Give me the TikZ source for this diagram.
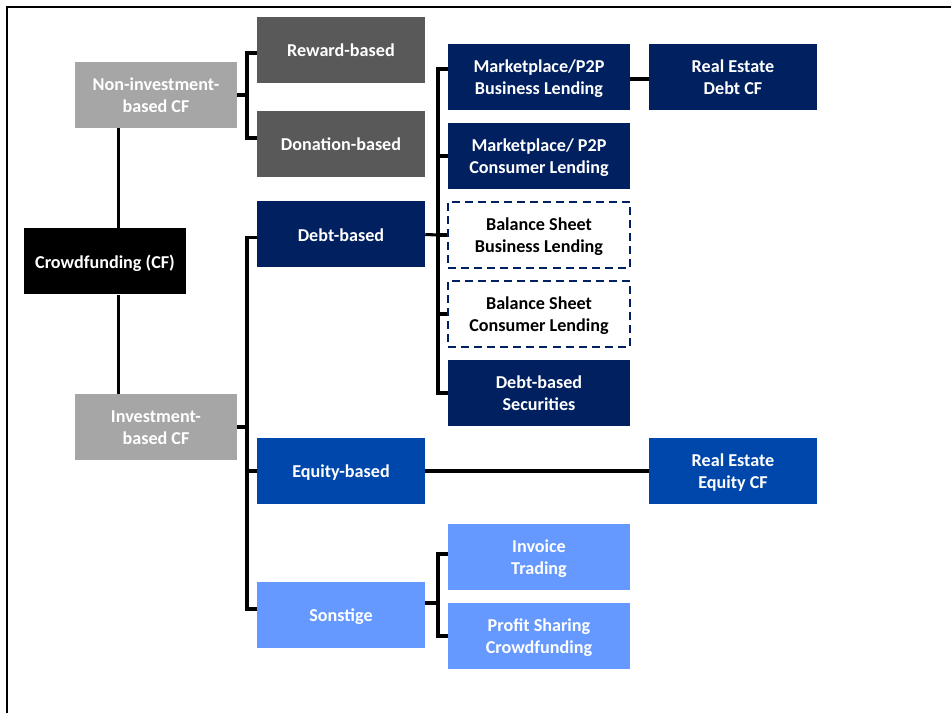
\documentclass[tikz,border=0pt]{standalone}
\usepackage{fontspec}
\setmainfont{Carlito}
\definecolor{gLight}{HTML}{A6A6A6}
\definecolor{gDark}{HTML}{595959}
\definecolor{navy}{HTML}{002060}
\definecolor{eqblue}{HTML}{0047AB}
\definecolor{ltblue}{HTML}{6699FF}
\newcommand{\boxtxt}[1]{\raisebox{-1.9pt}[\height][\depth]{\begin{tabular}{@{}c@{}}#1\end{tabular}}}
\tikzset{
  box/.style={rectangle, inner sep=0pt, align=center, text=white,
    font=\fontsize{13.6}{16.5}\selectfont\bfseries},
  colA/.style={box, minimum width=121.5pt, minimum height=49.5pt},
  colB/.style={box, minimum width=126pt, minimum height=49.5pt},
  colC/.style={box, minimum width=136.5pt, minimum height=49.5pt},
  dashbox/.style={colC, fill=white, text=black, draw=navy, line width=2.2pt,
    dash pattern=on 6pt off 3.8pt},
  conn/.style={draw=black, line width=2.3pt},
  frame/.style={draw=black, line width=1.6pt}
}
\begin{document}
\begin{tikzpicture}[x=0.75pt,y=-0.75pt]
\useasboundingbox (0,0) rectangle (951,713);
\draw[frame] (7,713) -- (7,7) -- (951,7);

% column A
\node[colA, fill=gLight] (noninv) at (156,95) {\boxtxt{Non-investment-\\based CF}};
\node[colA, fill=black] (cf) at (105,261.5) {\boxtxt{Crowdfunding (CF)}};
\node[colA, fill=gLight] (inv) at (156,427) {\boxtxt{Investment-\\based CF}};

% column B
\node[colB, fill=gDark] (reward) at (341,50) {\boxtxt{Reward-based}};
\node[colB, fill=gDark] (donation) at (341,144) {\boxtxt{Donation-based}};
\node[colB, fill=navy] (debt) at (341,234.5) {\boxtxt{Debt-based}};
\node[colB, fill=eqblue] (equity) at (341,471) {\boxtxt{Equity-based}};
\node[colB, fill=ltblue] (sonst) at (341,615) {\boxtxt{Sonstige}};

% column C
\node[colC, fill=navy] (mpb) at (539,77) {\boxtxt{Marketplace/P2P\\Business Lending}};
\node[colC, fill=navy] (mpc) at (539,156) {\boxtxt{Marketplace/ P2P\\Consumer Lending}};
\node[dashbox] (bsb) at (539,235) {\boxtxt{Balance Sheet\\Business Lending}};
\node[dashbox] (bsc) at (539,314) {\boxtxt{Balance Sheet\\Consumer Lending}};
\node[colC, fill=navy] (dbs) at (539,393) {\boxtxt{Debt-based\\Securities}};
\node[colC, fill=ltblue] (invt) at (539,557) {\boxtxt{Invoice\\Trading}};
\node[colC, fill=ltblue] (profit) at (539,636) {\boxtxt{Profit Sharing\\Crowdfunding}};

% column D
\node[colB, fill=navy] (red) at (733,77) {\boxtxt{Real Estate\\Debt CF}};
\node[colB, fill=eqblue] (ree) at (733,471) {\boxtxt{Real Estate\\Equity CF}};

% root connectors
\draw[conn] ([xshift=33pt]noninv.south west) -- ([xshift=71.25pt]cf.north west);
\draw[conn] ([xshift=33pt]inv.north west) -- ([xshift=71.25pt]cf.south west);

% non-investment bracket
\coordinate (b1) at (247,95);
\draw[conn] (noninv.east) -- (b1);
\draw[conn] ([yshift=-2.25pt]reward.west) -| (b1) |- ([yshift=4.5pt]donation.west);

% investment bracket
\coordinate (b2) at (247,427);
\draw[conn] (inv.east) -- (b2);
\draw[conn] ([yshift=-2.6pt]debt.west) -| (b2) |- ([yshift=4.5pt]sonst.west);
\draw[conn] (equity.west -| b2) -- (equity.west);

% debt bracket
\coordinate (b3) at (438,235);
\draw[conn] (debt.east) -- (b3);
\draw[conn] ([yshift=6pt]mpb.west) -| (b3) |- (dbs.west);
\draw[conn] (mpc.west -| b3) -- (mpc.west);
\draw[conn] (bsb.west -| b3) -- (bsb.west);
\draw[conn] (bsc.west -| b3) -- (bsc.west);

% sonstige bracket
\coordinate (b4) at (438,603);
\draw[conn] ([yshift=9pt]sonst.east) -- (b4);
\draw[conn] ([yshift=2.25pt]invt.west) -| (b4) |- (profit.west);

% right links
\draw[conn] ([yshift=-1.5pt]mpb.east) -- ([yshift=-1.5pt]red.west);
\draw[conn] (equity.east) -- (ree.west);
\end{tikzpicture}
\end{document}
